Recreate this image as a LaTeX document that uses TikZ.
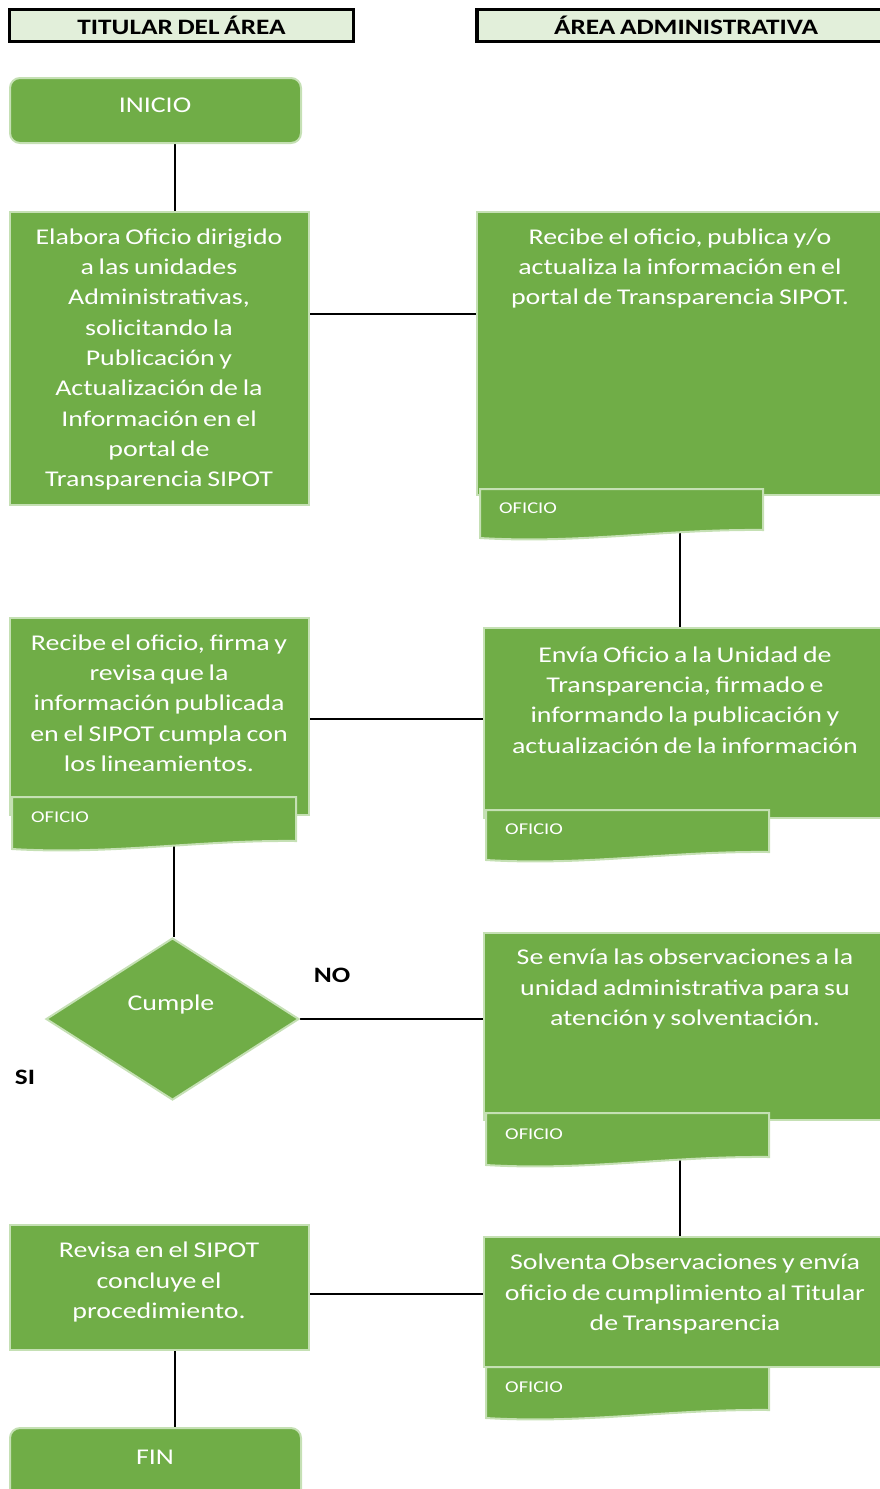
\documentclass[tikz,border=0pt]{standalone}
\usepackage{fontspec}
\setmainfont{Carlito}[FakeStretch=1.24, WordSpace=0.75]
\usetikzlibrary{calc,shapes.geometric}
\pgfdeclarelayer{bg}
\pgfsetlayers{bg,main}
\definecolor{gfill}{HTML}{70AD47}
\definecolor{gline}{HTML}{C5E0B4}
\definecolor{hfill}{HTML}{E2EFDA}
\tikzset{
  box/.style={draw=gline, line width=2pt, fill=gfill, inner sep=0pt},
  txt/.style={text=white, font=\fontsize{22.5}{30.3}\selectfont, align=center, inner sep=0pt},
  small/.style={text=white, font=\fontsize{16.5}{18}\selectfont, inner sep=0pt, anchor=west},
  hdr/.style={draw=black, line width=3.5pt, fill=hfill, inner sep=0pt, font=\bfseries\fontsize{22}{24}\selectfont},
  lbl/.style={font=\bfseries\fontsize{22}{24}\selectfont, inner sep=0pt},
  conn/.style={draw=black, line width=2pt},
}
\newcommand\doctab[4]{% L T R B
  \draw[box] (#1,#2) -- (#3,#2) -- (#3,#4-8)
    .. controls ({#3-0.35*(#3-#1)},#4-9) and ({#1+0.35*(#3-#1)},#4+6) .. (#1,#4) -- cycle;
}
\begin{document}
\begin{tikzpicture}[x=1pt,y=-1pt]
\useasboundingbox (0,0) rectangle (879,1489);

% headers
\node[hdr, minimum width=344pt, minimum height=32pt] (h1) at (181.5,25.5) {TITULAR DEL ÁREA};
\node[hdr, minimum width=418pt, minimum height=32pt] (h2) at (686,25.5) {ÁREA ADMINISTRATIVA};

% start
\node[box, rounded corners=10pt, minimum width=291pt, minimum height=65pt] (inicio) at (155.5,110.5) {};
\node[txt] (tinicio) at (155,105) {INICIO};

% box 1
\node[box, minimum width=299pt, minimum height=293pt] (box1) at (159.5,358.5) {};
\node[txt] (t1) at (159,359.5) {Elabora Oficio dirigido\\a las unidades\\Administrativas,\\solicitando la\\Publicación y\\Actualización de la\\Información en el\\portal de\\Transparencia SIPOT};

% box 2
\node[box, minimum width=418pt, minimum height=283pt] (box2) at (686,353.5) {};
\node[txt] (t2) at (680,268.5) {Recibe el oficio, publica y/o\\actualiza la información en el\\portal de Transparencia SIPOT.};
\doctab{480}{489}{763}{538}
\node[small] (o2) at (499,508) {OFICIO};
\coordinate (c2) at (680,520);

% box 3
\node[box, minimum width=411pt, minimum height=190pt] (box3) at (689.5,723) {};
\node[txt] (t3) at (685,700) {Envía Oficio a la Unidad de\\Transparencia, firmado e\\informando la publicación y\\actualización de la información};
\doctab{486}{810}{769}{860}
\node[small] (o3) at (505,829) {OFICIO};

% box 4
\node[box, minimum width=299pt, minimum height=197pt] (box4) at (159.5,716.5) {};
\node[txt] (t4) at (159,703) {Recibe el oficio, firma y\\revisa que la\\información publicada\\en el SIPOT cumpla con\\los lineamientos.};
\doctab{12}{797}{296}{849}
\node[small] (o4) at (31,817) {OFICIO};
\coordinate (c4) at (174,830);

% decision
\node[box, diamond, minimum width=253pt, minimum height=162pt] (dia) at (172.5,1019) {};
\node[txt] (tdia) at (171,1004) {Cumple};
\node[lbl] (no) at (332,975) {NO};
\node[lbl] (si) at (25,1077) {SI};

% box 5
\node[box, minimum width=411pt, minimum height=187pt] (box5) at (689.5,1026.5) {};
\node[txt] (t5) at (685,989) {Se envía las observaciones a la\\unidad administrativa para su\\atención y solventación.};
\doctab{486}{1113}{769}{1165}
\node[small] (o5) at (505,1134) {OFICIO};
\coordinate (c5) at (680,1145);

% box 6
\node[box, minimum width=411pt, minimum height=130pt] (box6) at (689.5,1302) {};
\node[txt] (t6) at (685,1294) {Solventa Observaciones y envía\\oficio de cumplimiento al Titular\\de Transparencia};
\doctab{486}{1367}{769}{1418}
\node[small] (o6) at (505,1387) {OFICIO};

% box 7
\node[box, minimum width=299pt, minimum height=125pt] (box7) at (159.5,1287.5) {};
\node[txt] (t7) at (159,1282) {Revisa en el SIPOT\\concluye el\\procedimiento.};

% end
\node[box, rounded corners=10pt, minimum width=291pt, minimum height=72pt] (fin) at (155.5,1464) {};
\node[txt] (tfin) at (155,1457) {FIN};

% helper coordinates
\coordinate (sp) at (175,0);
\coordinate (r1) at (0,314);
\coordinate (r2) at (0,719);
\coordinate (r3) at (0,1294);

\begin{pgfonlayer}{bg}
\draw[conn] (inicio.south -| sp) -- (box1.north -| sp);
\draw[conn] (box1.east |- r1) -- (box2.west |- r1);
\draw[conn] (c2) -- (c2 |- box3.north);
\draw[conn] (box3.west |- r2) -- (box4.east |- r2);
\draw[conn] (c4) -- (c4 |- dia.north);
\draw[conn] (dia.east) -- (dia.east -| box5.west);
\draw[conn] (c5) -- (c5 |- box6.north);
\draw[conn] (box6.west |- r3) -- (box7.east |- r3);
\draw[conn] (box7.south -| sp) -- (fin.north -| sp);
\end{pgfonlayer}
\end{tikzpicture}
\end{document}
